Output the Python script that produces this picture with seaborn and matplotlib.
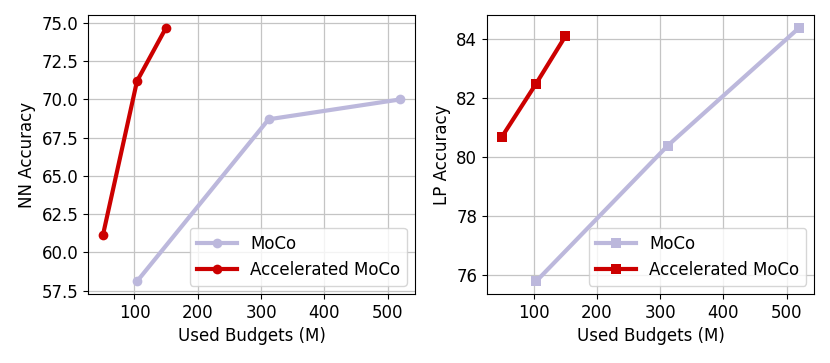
import numpy as np
import pandas as pd
import seaborn as sns
import matplotlib
matplotlib.use("Agg")
import matplotlib.pyplot as plt

# Data
moco_budget = [104, 312, 520]
acc_budget = [50, 104, 150]
moco_nn = [58.1, 68.7, 70.0]
acc_nn = [61.1, 71.2, 74.7]
moco_lp = [75.8, 80.4, 84.4]
acc_lp = [80.7, 82.5, 84.1]

moco_color = "#bcb8dc"
acc_color = "#cc0000"

plt.rcParams['font.family'] = ['DejaVu Sans']
plt.rcParams['font.size'] = 12

fig, axes = plt.subplots(1, 2, figsize=(8.3, 3.63), dpi=100)

panels = [
    (axes[0], moco_nn, acc_nn, "NN Accuracy", "o"),
    (axes[1], moco_lp, acc_lp, "LP Accuracy", "s"),
]

for ax, moco_y, acc_y, ylabel, mk in panels:
    sns.lineplot(x=moco_budget, y=moco_y, ax=ax, color=moco_color, linewidth=3,
                 marker=mk, markersize=7, markeredgewidth=0, label="MoCo")
    sns.lineplot(x=acc_budget, y=acc_y, ax=ax, color=acc_color, linewidth=3,
                 marker=mk, markersize=7, markeredgewidth=0, label="Accelerated MoCo")
    ax.grid(True, color="#c4c4c4", linewidth=0.9)
    ax.set_axisbelow(True)
    ax.set_xlabel("Used Budgets (M)", fontsize=12)
    ax.set_ylabel(ylabel, fontsize=12)
    ax.tick_params(labelsize=12)
    ax.legend(loc="lower right", fontsize=12, handlelength=2.4)

axes[0].set_yticks(np.arange(57.5, 75.01, 2.5))
axes[1].set_yticks([76, 78, 80, 82, 84])

plt.subplots_adjust(left=0.106, right=0.981, top=0.959, bottom=0.19, wspace=0.22)
plt.savefig("out.png", dpi=100)
